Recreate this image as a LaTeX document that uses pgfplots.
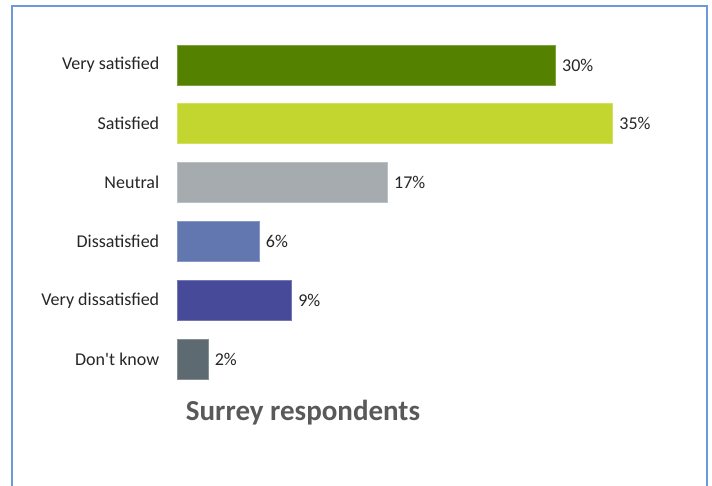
\documentclass[border=0pt]{standalone}
\usepackage{fontspec}
\setmainfont{Carlito}
\usepackage{pgfplots}
\pgfplotsset{compat=1.18}
\definecolor{c1}{HTML}{548200}
\definecolor{c2}{HTML}{C2D62F}
\definecolor{c3}{HTML}{A5ABAE}
\definecolor{c4}{HTML}{6276B0}
\definecolor{c5}{HTML}{474A99}
\definecolor{c6}{HTML}{5E6A71}
\definecolor{frame}{HTML}{6A9BD8}
\definecolor{titlegray}{HTML}{595959}
\begin{document}
\begin{tikzpicture}
\useasboundingbox (0,0) rectangle (712pt,-486pt);
\draw[frame, line width=1.3pt] (12pt,-486pt) -- (12pt,-6pt) -- (707pt,-6pt) -- (707pt,-486pt);
\begin{axis}[
  at={(177pt,-35.6pt)}, anchor=north west,
  scale only axis, width=498pt, height=352.8pt,
  xmin=0, xmax=40, ymin=-0.5, ymax=5.5, y dir=reverse,
  axis line style={draw=none},
  xtick=\empty,
  ytick={0,1,2,3,4,5},
  yticklabels={Very satisfied,Satisfied,Neutral,Dissatisfied,Very dissatisfied,Don\textquotesingle t know},
  ytick style={draw=none},
  yticklabel style={font=\fontsize{18}{20}\selectfont, text=black!85, xshift=-10pt},
  xbar, bar width=40pt, bar shift=0pt,
  point meta=explicit symbolic,
  nodes near coords,
  nodes near coords style={font=\fontsize{18}{20}\selectfont, text=black!85, anchor=west, xshift=3pt},
  clip=false,
]
\addplot[fill=c1, draw=c1!75!white, line width=0.8pt] table[meta=l] {x y l
30.4 0 30\%
};
\addplot[fill=c2, draw=c2!75!white, line width=0.8pt] table[meta=l] {x y l
35.0 1 35\%
};
\addplot[fill=c3, draw=c3!75!white, line width=0.8pt] table[meta=l] {x y l
16.9 2 17\%
};
\addplot[fill=c4, draw=c4!75!white, line width=0.8pt] table[meta=l] {x y l
6.6 3 6\%
};
\addplot[fill=c5, draw=c5!75!white, line width=0.8pt] table[meta=l] {x y l
9.2 4 9\%
};
\addplot[fill=c6, draw=c6!75!white, line width=0.8pt] table[meta=l] {x y l
2.5 5 2\%
};
\end{axis}
\node[font=\bfseries\fontsize{29}{33}\selectfont, text=titlegray] at (303pt,-413pt) {Surrey respondents};
\end{tikzpicture}
\end{document}
